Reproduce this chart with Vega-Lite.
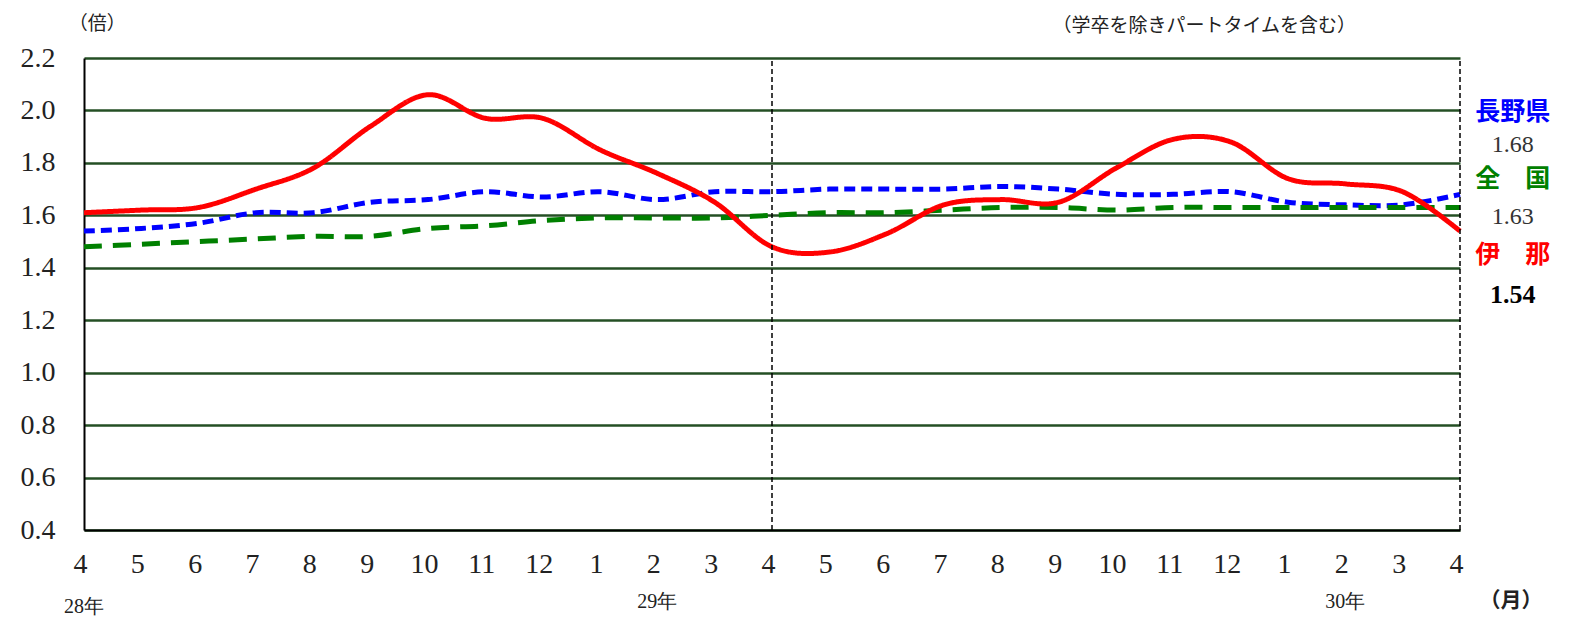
{
"$schema": "https://vega.github.io/schema/vega-lite/v6.json",
"autosize": {"type": "none"},
"padding": {"left": 84, "top": 58, "right": 109, "bottom": 90},
"width": 1376,
"height": 472,
"background": "white",
"config": {"view": {"stroke": null}},
"datasets": {
  "series": [
    {"i": 0, "s": "長野県", "v": 1.54}, {"i": 1, "s": "長野県", "v": 1.55}, {"i": 2, "s": "長野県", "v": 1.57},
    {"i": 3, "s": "長野県", "v": 1.61}, {"i": 4, "s": "長野県", "v": 1.61}, {"i": 5, "s": "長野県", "v": 1.65},
    {"i": 6, "s": "長野県", "v": 1.66}, {"i": 7, "s": "長野県", "v": 1.69}, {"i": 8, "s": "長野県", "v": 1.67},
    {"i": 9, "s": "長野県", "v": 1.69}, {"i": 10, "s": "長野県", "v": 1.66}, {"i": 11, "s": "長野県", "v": 1.69},
    {"i": 12, "s": "長野県", "v": 1.69}, {"i": 13, "s": "長野県", "v": 1.70}, {"i": 14, "s": "長野県", "v": 1.70},
    {"i": 15, "s": "長野県", "v": 1.70}, {"i": 16, "s": "長野県", "v": 1.71}, {"i": 17, "s": "長野県", "v": 1.70},
    {"i": 18, "s": "長野県", "v": 1.68}, {"i": 19, "s": "長野県", "v": 1.68}, {"i": 20, "s": "長野県", "v": 1.69},
    {"i": 21, "s": "長野県", "v": 1.65}, {"i": 22, "s": "長野県", "v": 1.64}, {"i": 23, "s": "長野県", "v": 1.64},
    {"i": 24, "s": "長野県", "v": 1.68},
    {"i": 0, "s": "全国", "v": 1.48}, {"i": 1, "s": "全国", "v": 1.49}, {"i": 2, "s": "全国", "v": 1.50},
    {"i": 3, "s": "全国", "v": 1.51}, {"i": 4, "s": "全国", "v": 1.52}, {"i": 5, "s": "全国", "v": 1.52},
    {"i": 6, "s": "全国", "v": 1.55}, {"i": 7, "s": "全国", "v": 1.56}, {"i": 8, "s": "全国", "v": 1.58},
    {"i": 9, "s": "全国", "v": 1.59}, {"i": 10, "s": "全国", "v": 1.59}, {"i": 11, "s": "全国", "v": 1.59},
    {"i": 12, "s": "全国", "v": 1.60}, {"i": 13, "s": "全国", "v": 1.61}, {"i": 14, "s": "全国", "v": 1.61},
    {"i": 15, "s": "全国", "v": 1.62}, {"i": 16, "s": "全国", "v": 1.63}, {"i": 17, "s": "全国", "v": 1.63},
    {"i": 18, "s": "全国", "v": 1.62}, {"i": 19, "s": "全国", "v": 1.63}, {"i": 20, "s": "全国", "v": 1.63},
    {"i": 21, "s": "全国", "v": 1.63}, {"i": 22, "s": "全国", "v": 1.63}, {"i": 23, "s": "全国", "v": 1.63},
    {"i": 24, "s": "全国", "v": 1.63},
    {"i": 0, "s": "伊那", "v": 1.61}, {"i": 1, "s": "伊那", "v": 1.62}, {"i": 2, "s": "伊那", "v": 1.63},
    {"i": 3, "s": "伊那", "v": 1.70}, {"i": 4, "s": "伊那", "v": 1.78}, {"i": 5, "s": "伊那", "v": 1.94},
    {"i": 6, "s": "伊那", "v": 2.06}, {"i": 7, "s": "伊那", "v": 1.97}, {"i": 8, "s": "伊那", "v": 1.97},
    {"i": 9, "s": "伊那", "v": 1.85}, {"i": 10, "s": "伊那", "v": 1.76}, {"i": 11, "s": "伊那", "v": 1.65},
    {"i": 12, "s": "伊那", "v": 1.48}, {"i": 13, "s": "伊那", "v": 1.46}, {"i": 14, "s": "伊那", "v": 1.53},
    {"i": 15, "s": "伊那", "v": 1.64}, {"i": 16, "s": "伊那", "v": 1.66}, {"i": 17, "s": "伊那", "v": 1.65},
    {"i": 18, "s": "伊那", "v": 1.78}, {"i": 19, "s": "伊那", "v": 1.89}, {"i": 20, "s": "伊那", "v": 1.88},
    {"i": 21, "s": "伊那", "v": 1.74}, {"i": 22, "s": "伊那", "v": 1.72}, {"i": 23, "s": "伊那", "v": 1.69},
    {"i": 24, "s": "伊那", "v": 1.54}
  ],
  "rules": [{"i": 12}, {"i": 24}],
  "notes": [
    {"g": "unit", "i": 0.23, "v": 2.33, "t": "（倍）"},
    {"g": "unit", "i": 19.54, "v": 2.322, "t": "（学卒を除きパートタイムを含む）"},
    {"g": "year", "i": 0, "v": 0.106, "t": "28年"},
    {"g": "year", "i": 10, "v": 0.125, "t": "29年"},
    {"g": "year", "i": 22, "v": 0.125, "t": "30年"},
    {"g": "month", "i": 24.89, "v": 0.129, "t": "（月）"},
    {"g": "name", "s": "長野県", "i": 24.92, "v": 1.995, "t": "長野県"},
    {"g": "name", "s": "全国", "i": 24.92, "v": 1.738, "t": "全　国"},
    {"g": "name", "s": "伊那", "i": 24.92, "v": 1.449, "t": "伊　那"},
    {"g": "val", "i": 24.92, "v": 1.868, "t": "1.68"},
    {"g": "val", "i": 24.92, "v": 1.594, "t": "1.63"},
    {"g": "ina", "i": 24.92, "v": 1.296, "t": "1.54"}
  ]
},
"layer": [
  {
    "data": {"name": "series"},
    "mark": {"type": "line", "interpolate": "cardinal", "strokeCap": "butt"},
    "encoding": {
      "x": {
        "field": "i", "type": "quantitative",
        "scale": {"domain": [0, 24], "nice": false, "zero": false},
        "axis": {
          "values": [0,1,2,3,4,5,6,7,8,9,10,11,12,13,14,15,16,17,18,19,20,21,22,23,24],
          "labelExpr": "(datum.value + 3) % 12 + 1",
          "title": null, "grid": false, "ticks": false,
          "domainColor": "black", "domainWidth": 2,
          "labelFont": "Liberation Serif", "labelFontSize": 28, "labelColor": "#222",
          "labelPadding": 20, "labelOffset": -4, "labelFlush": false
        }
      },
      "y": {
        "field": "v", "type": "quantitative",
        "scale": {"domain": [0.4, 2.2], "nice": false, "zero": false},
        "axis": {
          "values": [0.4, 0.6, 0.8, 1.0, 1.2, 1.4, 1.6, 1.8, 2.0, 2.2],
          "format": ".1f", "title": null, "ticks": false,
          "grid": true, "gridColor": "#244f24", "gridWidth": 2.5, "gridOpacity": 1,
          "domainColor": "black", "domainWidth": 2,
          "labelFont": "Liberation Serif", "labelFontSize": 28, "labelColor": "#222",
          "labelPadding": 29, "labelFlush": false
        }
      },
      "color": {
        "field": "s", "type": "nominal", "legend": null,
        "scale": {"domain": ["長野県", "全国", "伊那"], "range": ["#0000ff", "#008000", "#ff0000"]}
      },
      "strokeDash": {
        "field": "s", "type": "nominal", "legend": null,
        "scale": {"domain": ["長野県", "全国", "伊那"], "range": [[11, 6], [18, 11], [1, 0]]}
      },
      "strokeWidth": {
        "field": "s", "type": "nominal", "legend": null,
        "scale": {"domain": ["長野県", "全国", "伊那"], "range": [5, 5, 4.5]}
      },
      "order": {"field": "i", "type": "quantitative"}
    }
  },
  {
    "data": {"name": "rules"},
    "mark": {"type": "rule", "color": "black", "strokeWidth": 1.5, "strokeDash": [5, 3]},
    "encoding": {
      "x": {"field": "i", "type": "quantitative"},
      "y": {"datum": 0.4},
      "y2": {"datum": 2.2}
    }
  },
  {
    "data": {"name": "notes"},
    "transform": [{"filter": "datum.g == 'unit'"}],
    "mark": {"type": "text", "font": "Noto Sans CJK JP", "fontSize": 19, "color": "#222", "baseline": "middle", "clip": false},
    "encoding": {
      "x": {"field": "i", "type": "quantitative"},
      "y": {"field": "v", "type": "quantitative"},
      "text": {"field": "t"}
    }
  },
  {
    "data": {"name": "notes"},
    "transform": [{"filter": "datum.g == 'year'"}],
    "mark": {"type": "text", "font": "Liberation Serif", "fontSize": 20, "color": "#222", "baseline": "middle", "clip": false},
    "encoding": {
      "x": {"field": "i", "type": "quantitative"},
      "y": {"field": "v", "type": "quantitative"},
      "text": {"field": "t"}
    }
  },
  {
    "data": {"name": "notes"},
    "transform": [{"filter": "datum.g == 'month'"}],
    "mark": {"type": "text", "font": "Noto Sans CJK JP", "fontSize": 21, "fontWeight": "bold", "color": "#222", "baseline": "middle", "clip": false},
    "encoding": {
      "x": {"field": "i", "type": "quantitative"},
      "y": {"field": "v", "type": "quantitative"},
      "text": {"field": "t"}
    }
  },
  {
    "data": {"name": "notes"},
    "transform": [{"filter": "datum.g == 'name'"}],
    "mark": {"type": "text", "font": "Noto Sans CJK JP", "fontSize": 25, "fontWeight": "bold", "baseline": "middle", "clip": false},
    "encoding": {
      "x": {"field": "i", "type": "quantitative"},
      "y": {"field": "v", "type": "quantitative"},
      "text": {"field": "t"},
      "color": {"field": "s", "type": "nominal", "legend": null}
    }
  },
  {
    "data": {"name": "notes"},
    "transform": [{"filter": "datum.g == 'val'"}],
    "mark": {"type": "text", "font": "Liberation Serif", "fontSize": 24, "color": "#333", "baseline": "middle", "clip": false},
    "encoding": {
      "x": {"field": "i", "type": "quantitative"},
      "y": {"field": "v", "type": "quantitative"},
      "text": {"field": "t"}
    }
  },
  {
    "data": {"name": "notes"},
    "transform": [{"filter": "datum.g == 'ina'"}],
    "mark": {"type": "text", "font": "Liberation Serif", "fontSize": 26, "fontWeight": "bold", "color": "black", "baseline": "middle", "clip": false},
    "encoding": {
      "x": {"field": "i", "type": "quantitative"},
      "y": {"field": "v", "type": "quantitative"},
      "text": {"field": "t"}
    }
  }
]
}
